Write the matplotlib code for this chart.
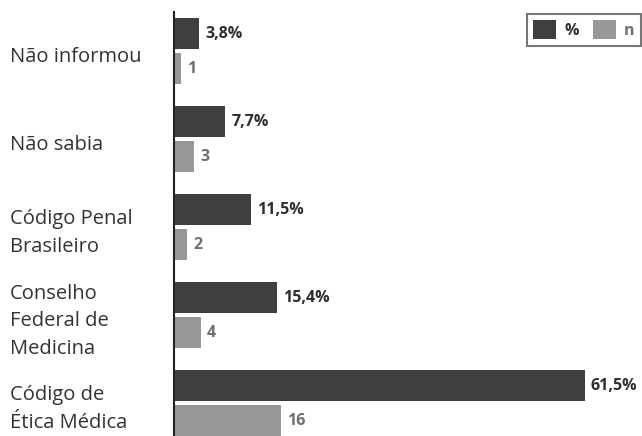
import matplotlib
matplotlib.use("Agg")
import matplotlib.pyplot as plt
import numpy as np
from matplotlib.patches import Patch

plt.rcParams['font.family'] = ['Open Sans', 'DejaVu Sans']

categories = ["Não informou", "Não sabia", "Código Penal\nBrasileiro",
              "Conselho\nFederal de\nMedicina", "Código de\nÉtica Médica"]
pct = [3.8, 7.7, 11.5, 15.4, 61.5]
pct_labels = ["3,8%", "7,7%", "11,5%", "15,4%", "61,5%"]
n = [1, 3, 2, 4, 16]

dark = "#3f3f3f"
light = "#98989b"
text_dark = "#2e2e2e"
text_gray = "#6f6f72"

W, H = 642, 436
fig = plt.figure(figsize=(W / 100, H / 100), dpi=100)
left_px, top_px = 174, 12
ax = fig.add_axes([left_px / W, 0, (W - left_px) / W, (H - top_px) / H])

y = np.arange(len(categories))
bh = 31 / 88
off = 17.5 / 88

ax.barh(y - off, pct, height=bh, color=dark)
ax.barh(y + off, n, height=bh, color=light)

px_per_unit = 6.68
ax.set_xlim(0, (W - left_px) / px_per_unit)
ax.set_ylim(4 + 33 / 88, -39 / 88)

pad = 6 / px_per_unit
for yi, v, lab in zip(y, pct, pct_labels):
    ax.text(v + pad, yi - off, lab, va="center", ha="left", fontsize=11.5,
            fontweight="bold", color=text_dark)
for yi, v in zip(y, n):
    ax.text(v + pad, yi + off, str(v), va="center", ha="left", fontsize=11.5,
            fontweight="bold", color=text_gray)

# category names on the left, outside the axes
for yi, cat in zip(y, categories):
    ax.text(-164 / px_per_unit, yi + 6 / 88, cat, va="center", ha="left", fontsize=14.5,
            color="#333333", linespacing=1.5, clip_on=False)

for s in ["top", "right", "bottom"]:
    ax.spines[s].set_visible(False)
ax.spines["left"].set_color("#222222")
ax.spines["left"].set_linewidth(1.5)
ax.set_xticks([])
ax.set_yticks([])

handles = [Patch(facecolor=dark), Patch(facecolor=light)]
leg = ax.legend(handles, ["%", "n"], ncol=2, loc="upper right",
                bbox_to_anchor=(641 / W, 1 - 14 / H), bbox_transform=fig.transFigure,
                borderaxespad=0, frameon=True, fancybox=False,
                handlelength=1.45, handleheight=1.45, handletextpad=0.5,
                columnspacing=0.9, borderpad=0.4, prop={"weight": "bold", "size": 11.5})
leg.get_frame().set_edgecolor("#555555")
leg.get_frame().set_linewidth(1.5)
leg.get_texts()[0].set_color(text_dark)
leg.get_texts()[1].set_color(text_gray)

fig.savefig("out.png", dpi=100)
